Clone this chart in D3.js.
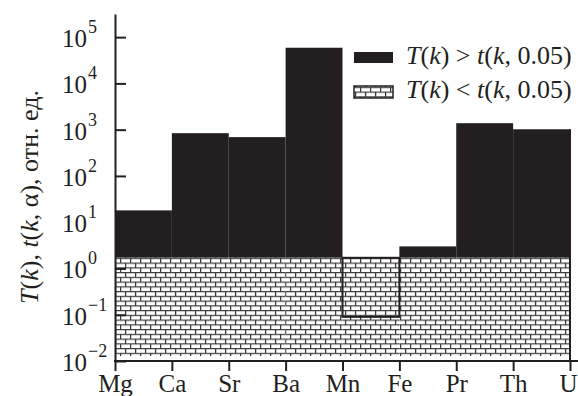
<!DOCTYPE html>
<html lang="ru">
<head>
<meta charset="utf-8">
<title>T(k) vs t(k, 0.05)</title>
<script src="https://d3js.org/d3.v7.min.js"></script>
<style>
  body { margin: 0; background: #fff; }
  text { font-family: "Liberation Serif", "Times New Roman", serif; fill: #231f20; }
  .axis path, .axis line { stroke: #231f20; stroke-width: 2px; }
</style>
</head>
<body>
<div id="chart"></div>
<script>
// tick labels on the x axis (boundaries between intervals)
var elements = ["Mg", "Ca", "Sr", "Ba", "Mn", "Fe", "Pr", "Th", "U"];
// statistic T(k) for each interval
var Tvalues = [18, 840, 690, 59000, 0.09, 3, 1380, 1020];
// critical value t(k, 0.05) for each interval
var tCrit = [1.7, 1.7, 1.7, 1.7, 1.7, 1.7, 1.7, 1.7];
// decades shown on the y axis
var yExps = [-2, -1, 0, 1, 2, 3, 4, 5];

var W = 578, H = 396;
var ink = "#231f20";

var svg = d3.select("#chart").append("svg")
    .attr("width", W).attr("height", H);

var x = d3.scaleLinear().domain([0, elements.length - 1]).range([115, 570]);
var y = d3.scaleLog().domain([0.01, Math.pow(10, 5.5)]).range([361, 14]);
var hatchBottom = 0.0128;

// brick pattern
var defs = svg.append("defs");
var bw = 10, bh = 4.75;
var pat = defs.append("pattern")
    .attr("id", "bricks")
    .attr("patternUnits", "userSpaceOnUse")
    .attr("width", bw).attr("height", bh * 2)
    .attr("patternTransform", "translate(0," + y(tCrit[0]) + ")");
pat.append("rect").attr("width", bw).attr("height", bh * 2).attr("fill", "#fff");
pat.append("path")
    .attr("d", "M0,0.6H" + bw + "M0," + (bh + 0.6) + "H" + bw +
               "M0.6,0V" + bh + "M" + (bw / 2 + 0.6) + "," + bh + "V" + (bh * 2))
    .attr("stroke", "#3d3a3b").attr("stroke-width", 1.3).attr("fill", "none");

var data = Tvalues.map(function(v, i) { return {i: i, T: v, t: tCrit[i]}; });

// black bars: T(k) > t(k, 0.05)
svg.append("g").selectAll("rect.bar")
  .data(data.filter(function(d) { return d.T > d.t; }))
  .enter().append("rect")
    .attr("class", "bar")
    .attr("x", function(d) { return x(d.i); })
    .attr("width", function(d) { return x(d.i + 1) - x(d.i); })
    .attr("y", function(d) { return y(d.T); })
    .attr("height", function(d) { return y(d.t) - y(d.T); })
    .attr("fill", ink);

// hatched area below the critical value
svg.append("g").selectAll("rect.hatch")
  .data(data)
  .enter().append("rect")
    .attr("class", "hatch")
    .attr("x", function(d) { return x(d.i) + (d.i === 0 ? 1 : 0); })
    .attr("width", function(d) { return x(d.i + 1) - x(d.i) - (d.i === 0 ? 1 : 0); })
    .attr("y", function(d) { return y(d.t); })
    .attr("height", function(d) { return y(hatchBottom) - y(d.t); })
    .attr("fill", "url(#bricks)");

// outlined boxes: T(k) < t(k, 0.05)
svg.append("g").selectAll("rect.low")
  .data(data.filter(function(d) { return d.T < d.t; }))
  .enter().append("rect")
    .attr("class", "low")
    .attr("x", function(d) { return x(d.i); })
    .attr("width", function(d) { return x(d.i + 1) - x(d.i); })
    .attr("y", function(d) { return y(d.t); })
    .attr("height", function(d) { return y(d.T) - y(d.t); })
    .attr("fill", "none").attr("stroke", ink).attr("stroke-width", 2);

// right edge of the last interval
var last = data[data.length - 1];
svg.append("line")
    .attr("x1", x(last.i + 1)).attr("x2", x(last.i + 1))
    .attr("y1", y(last.T)).attr("y2", y(0.01))
    .attr("stroke", ink).attr("stroke-width", 2);

// y axis
svg.append("g").attr("class", "axis")
    .attr("transform", "translate(" + x(0) + ",0)")
    .call(d3.axisRight(y)
      .tickValues(yExps.map(function(e) { return Math.pow(10, e); }))
      .tickSize(11).tickSizeOuter(0).tickFormat(""));

var ylab = svg.append("g").selectAll("g.ylab")
  .data(yExps).enter().append("g").attr("class", "ylab");
ylab.append("text")
    .attr("x", 87).attr("y", function(e) { return y(Math.pow(10, e)) + 10; })
    .attr("text-anchor", "end")
    .style("font-size", "25px")
    .text("10");
ylab.append("text")
    .attr("x", 88).attr("y", function(e) { return y(Math.pow(10, e)) - 4; })
    .style("font-size", "18px")
    .text(function(e) { return e < 0 ? "\u2212" + (-e) : e; });

// x axis
svg.append("g").attr("class", "axis")
    .attr("transform", "translate(0," + y(0.01) + ")")
    .call(d3.axisBottom(x)
      .tickValues(d3.range(elements.length))
      .tickSize(10).tickSizeOuter(0)
      .tickFormat(function(i) { return elements[i]; }))
  .call(function(g) {
    g.select(".domain").remove();
    g.append("line").attr("x1", x(0) - 1).attr("x2", W).attr("y1", 0).attr("y2", 0);
    g.selectAll(".tick text")
      .attr("y", 31).attr("dy", null)
      .attr("x", function(i) { return i === elements.length - 1 ? -2 : 0; })
      .style("font-size", "25px")
      .style("font-family", "'Liberation Serif', serif")
      .attr("fill", ink);
  });

// y axis title
var yt = svg.append("text")
    .attr("transform", "translate(38,197) rotate(-90)")
    .attr("text-anchor", "middle")
    .style("font-size", "26px");
yt.append("tspan").style("font-style", "italic").text("T");
yt.append("tspan").text("(");
yt.append("tspan").style("font-style", "italic").text("k");
yt.append("tspan").text("), ");
yt.append("tspan").style("font-style", "italic").text("t");
yt.append("tspan").text("(");
yt.append("tspan").style("font-style", "italic").text("k");
yt.append("tspan").text(", α), отн. ед.");

// legend
var legendItems = [
  {sign: ">", fill: ink, stroke: "none", y: 52},
  {sign: "<", fill: "url(#bricks)", stroke: ink, y: 86}
];
var lg = svg.append("g").selectAll("g.leg").data(legendItems).enter().append("g");
lg.append("rect")
    .attr("x", 354).attr("y", function(d) { return d.y; })
    .attr("width", 39).attr("height", function(d, i) { return i ? 12 : 11; })
    .attr("fill", function(d) { return d.fill; })
    .attr("stroke", function(d) { return d.stroke; })
    .attr("stroke-width", 1.5);
var lt = lg.append("text")
    .attr("x", 406).attr("y", function(d) { return d.y + 12; })
    .style("font-size", "26px");
lt.append("tspan").style("font-style", "italic").text("T");
lt.append("tspan").text("(");
lt.append("tspan").style("font-style", "italic").text("k");
lt.append("tspan").text(function(d) { return ") " + d.sign + " "; });
lt.append("tspan").style("font-style", "italic").text("t");
lt.append("tspan").text("(");
lt.append("tspan").style("font-style", "italic").text("k");
lt.append("tspan").text(", 0.05)");
</script>
</body>
</html>
